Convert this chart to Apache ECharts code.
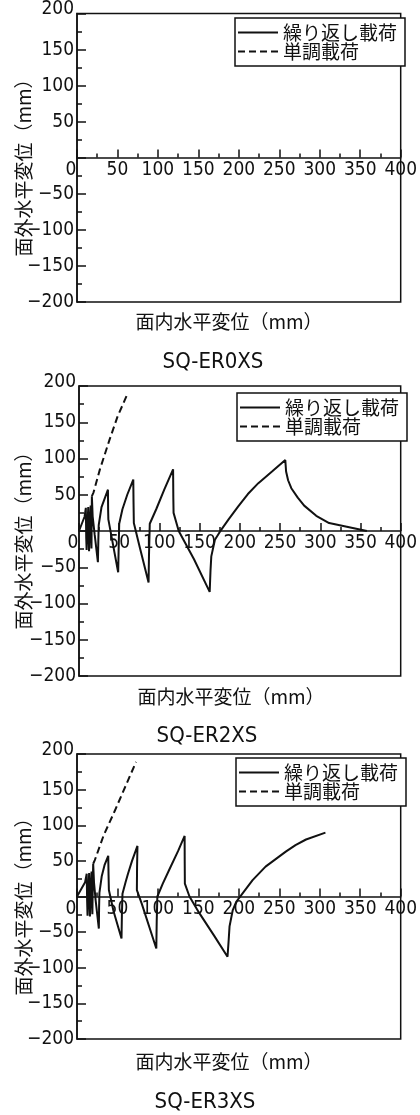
<!DOCTYPE html>
<html><head><meta charset="utf-8">
<script src="https://cdn.jsdelivr.net/npm/echarts@6/dist/echarts.min.js"></script>
<style>html,body{margin:0;padding:0;background:#fff}#c{width:420px;height:1115px}</style>
</head><body><div id="c"></div>
<script>
// ---- data ----
const panelTitles = ['SQ-ER0XS', 'SQ-ER2XS', 'SQ-ER3XS'];
const seriesNames = ['繰り返し載荷', '単調載荷'];
const xAxisName = '面内水平変位（mm）';
const yAxisName = '面外水平変位（mm）';
const xTickValues = [0, 50, 100, 150, 200, 250, 300, 350, 400];
const yTickValues = [-200, -150, -100, -50, 0, 50, 100, 150, 200];

const cyclicER0 = [];
const monoER0 = [];

const cyclicER2 = [
  [0,0],[7,20],[8.5,32],[9,-10],[9.5,-26],[10.5,5],[11.5,33],[12,0],[12.5,-28],[13.5,10],[14.5,35],[15,0],[15.5,-24],
  [16,48],[17,20],[19.5,-5],[23.5,-43],[24,-15],[24.5,8],[28,33],[36,57],[36.2,30],[36.5,16],[40,-5],[48.7,-57],
  [49.2,-30],[50,10],[54,30],[60,50],[67.5,71],[67.8,40],[68.2,11],[75,-20],[86.5,-71],[87,-35],[88,10],[96,30],
  [106,57],[117,85],[117.3,45],[117.6,25],[124,0],[143,-39],[162.5,-84],[163.5,-55],[164.5,-35],[169,-12],[177,2],
  [186,16],[198,34],[210,51],[223,66],[240,82],[256.5,98],[257.5,82],[260,70],[264,59],[272,46],[280,35],[295,21],
  [311,11],[333,6],[358,0]
];
const monoER2 = [[16,48],[18,53],[26,85],[38,126],[48,158],[61,191]];

const cyclicER3 = [
  [0,0],[10,20],[12,32],[12.5,-5],[13,-27],[14,5],[15,33],[15.5,0],[16,-28],[17,10],[18,35],[18.5,0],[19,-25],
  [19.5,20],[20,46],[21,20],[23,-5],[27,-45],[27.3,-15],[27.7,5],[30.5,28],[34,44],[38.6,57],[39,30],[39.4,9],
  [45,-20],[55,-59],[55.5,-25],[56.2,4],[60,20],[63,32],[68,50],[74.7,71],[74.2,40],[74,9],[80,-10],[98,-73],
  [98.5,-35],[99.3,0],[106,18],[115,40],[125,64],[133,85],[133.1,50],[133.3,18],[139,0],[151,-23],[170,-56],
  [186,-84.5],[187.5,-60],[188.5,-42],[192.5,-19],[197,-7],[203,2],[217,23],[233,42],[258,63],[270,72],[283,80],
  [307,89.6]
];
const monoER3 = [[20,46],[22,51],[33,86],[47,121],[60,155],[73,189]];

const cyclicData = [cyclicER0, cyclicER2, cyclicER3];
const monoData = [monoER0, monoER2, monoER3];

// ---- layout ----
const grids = [
  {left: 77, top: 13, width: 324, height: 289},
  {left: 79, top: 386, width: 325, height: 290},
  {left: 77, top: 754, width: 325, height: 285}
];
const legendPos = [[235, 18], [237, 393], [236, 758]];
const titlePos = [[213, 362], [207, 736], [205, 1102]];
const xNamePos = [[229, 322], [231, 697], [229, 1062]];
const yNamePos = [[24, 163], [24, 536], [24, 902]];

const numFont = '"Liberation Sans Narrow","DejaVu Sans Condensed","Roboto Condensed","Liberation Sans",sans-serif';
const cjkFont = '"Noto Sans CJK JP","Noto Sans CJK SC",sans-serif';
const ink = '#111';

const chart = echarts.init(document.getElementById('c'), null, {renderer: 'canvas'});

const xAxes = grids.map((g, i) => ({
  gridIndex: i, type: 'value', position: 'bottom', offset: -g.height / 2,
  min: xTickValues[0], max: xTickValues[xTickValues.length - 1], interval: 50,
  axisLine: {onZero: false, lineStyle: {color: ink, width: 1.5}},
  axisTick: {inside: true, length: 8, lineStyle: {color: ink, width: 1.5}},
  minorTick: {show: true, splitNumber: 2, length: 4, lineStyle: {color: ink, width: 1.5}},
  splitLine: {show: false},
  axisLabel: {
    margin: 3, color: ink, fontSize: 19, fontFamily: numFont,
    formatter: v => v === 0 ? '{z|0}' : String(v),
    rich: {z: {padding: [0, 12, 0, 0], fontSize: 19, fontFamily: numFont, color: ink}}
  }
}));

const yAxes = grids.map((g, i) => ({
  gridIndex: i, type: 'value', position: 'left',
  min: yTickValues[0], max: yTickValues[yTickValues.length - 1], interval: 50,
  axisLine: {onZero: false, lineStyle: {color: ink, width: 1.5}},
  axisTick: {inside: true, length: 9, lineStyle: {color: ink, width: 1.5}},
  minorTick: {show: true, splitNumber: 2, length: 5, lineStyle: {color: ink, width: 1.5}},
  splitLine: {show: false},
  axisLabel: {
    margin: 3, color: ink, fontSize: 19, fontFamily: numFont,
    formatter: v => v === 0 ? '' : (v === 200 ? '{t|200}' : String(v).replace('-', '\u2212')),
    rich: {t: {padding: [0, 0, 8, 0], fontSize: 19, fontFamily: numFont, color: ink}}
  }
}));

const series = [];
grids.forEach((g, i) => {
  series.push({
    type: 'line', name: seriesNames[0], xAxisIndex: i, yAxisIndex: i, data: cyclicData[i],
    symbol: 'none', lineStyle: {color: ink, width: 2}, itemStyle: {color: ink}, clip: true, silent: true
  });
  series.push({
    type: 'line', name: seriesNames[1], xAxisIndex: i, yAxisIndex: i, data: monoData[i],
    symbol: 'none', lineStyle: {color: ink, width: 2, type: [7, 4]}, itemStyle: {color: ink}, clip: true, silent: true
  });
});

const legends = grids.map((g, i) => ({
  orient: 'vertical', left: legendPos[i][0], top: legendPos[i][1], data: seriesNames,
  itemWidth: 40, itemHeight: 14, itemGap: 0, padding: [5, 8, 5, 2],
  borderColor: ink, borderWidth: 1.5, backgroundColor: '#fff', selectedMode: false,
  itemStyle: {color: 'rgba(0,0,0,0)', borderColor: 'rgba(0,0,0,0)', borderWidth: 0, opacity: 0},
  textStyle: {fontSize: 19, lineHeight: 19, fontFamily: cjkFont, color: ink}
}));

const graphics = [];
grids.forEach((g, i) => {
  graphics.push({type: 'text', x: titlePos[i][0], y: titlePos[i][1], silent: true,
    style: {text: panelTitles[i], fontSize: 22, fontFamily: numFont, fill: ink,
      align: 'center', verticalAlign: 'middle', textAlign: 'center', textVerticalAlign: 'middle'}});
  graphics.push({type: 'text', x: xNamePos[i][0], y: xNamePos[i][1], silent: true,
    style: {text: xAxisName, fontSize: 19, fontFamily: cjkFont, fill: ink,
      align: 'center', verticalAlign: 'middle', textAlign: 'center', textVerticalAlign: 'middle'}});
  graphics.push({type: 'text', x: yNamePos[i][0], y: yNamePos[i][1], rotation: Math.PI / 2, silent: true,
    style: {text: yAxisName, fontSize: 19, fontFamily: cjkFont, fill: ink,
      align: 'center', verticalAlign: 'middle', textAlign: 'center', textVerticalAlign: 'middle'}});
});

chart.setOption({
  backgroundColor: '#fff',
  animation: false,
  grid: grids.map(g => Object.assign({show: true, borderColor: ink, borderWidth: 1.5, backgroundColor: 'transparent', containLabel: false}, g)),
  xAxis: xAxes,
  yAxis: yAxes,
  legend: legends,
  series: series,
  graphic: graphics
});
</script>
</body></html>
